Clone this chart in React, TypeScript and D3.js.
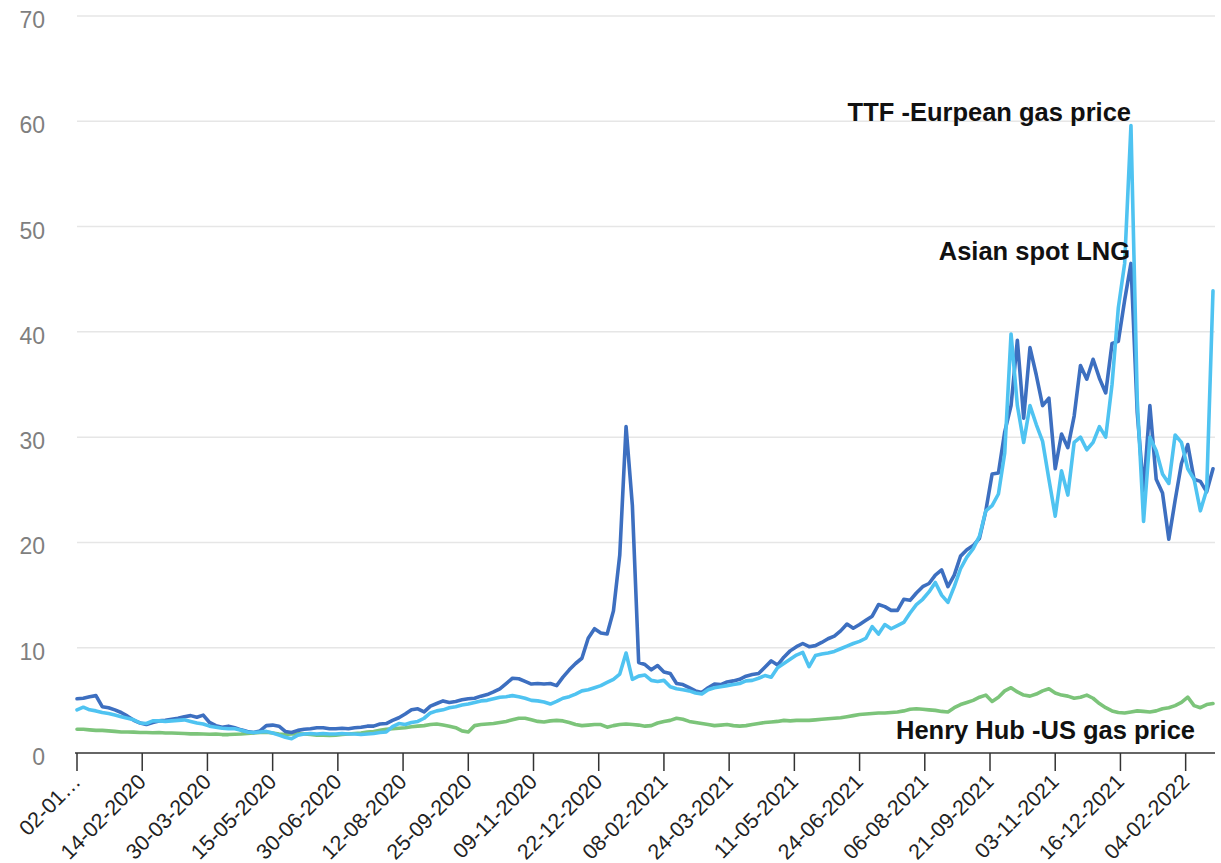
import React from 'react';
import * as d3 from 'd3';

const STEP = 3; // trading days between samples
const LAST_INDEX = 540;

const tickLabels = ["02-01…","14-02-2020","30-03-2020","15-05-2020","30-06-2020","12-08-2020","25-09-2020","09-11-2020","22-12-2020","08-02-2021","24-03-2021","11-05-2021","24-06-2021","06-08-2021","21-09-2021","03-11-2021","16-12-2021","04-02-2022"];
const TICK_EVERY = 31;
const yTicks = [0, 10, 20, 30, 40, 50, 60, 70];

const asianLNG = [
  5.15,5.2,5.35,5.45,4.4,4.3,4.1,3.85,3.5,3.1,
  2.85,2.7,2.9,3.05,3.1,3.2,3.3,3.45,3.55,3.4,
  3.6,2.9,2.6,2.45,2.55,2.4,2.2,2.05,1.95,2.1,
  2.6,2.65,2.55,2.05,1.95,2.15,2.25,2.3,2.4,2.4,
  2.3,2.3,2.35,2.3,2.4,2.45,2.55,2.55,2.75,2.8,
  3.1,3.35,3.7,4.1,4.2,3.9,4.45,4.7,4.95,4.8,
  4.9,5.05,5.15,5.2,5.4,5.55,5.8,6.1,6.6,7.1,
  7.05,6.8,6.55,6.6,6.55,6.6,6.4,7.2,7.9,8.5,
  9.0,10.9,11.8,11.4,11.3,13.5,18.8,31.0,23.5,8.6,
  8.4,7.9,8.3,7.7,7.55,6.6,6.5,6.2,5.9,5.75,
  6.2,6.55,6.5,6.75,6.85,7.0,7.3,7.45,7.55,8.15,
  8.75,8.35,9.1,9.7,10.1,10.4,10.1,10.2,10.5,10.85,
  11.1,11.6,12.25,11.85,12.2,12.6,13.0,14.1,13.9,13.55,
  13.55,14.6,14.5,15.2,15.8,16.1,16.9,17.4,15.8,16.9,
  18.7,19.3,19.7,20.4,23.0,26.5,26.6,30.5,33.0,39.2,
  31.8,38.5,35.9,33.0,33.7,27.0,30.3,29.0,32.0,36.8,
  35.5,37.4,35.6,34.2,38.9,39.1,43.0,46.5,32.3,24.9,
  33.0,26.0,24.7,20.3,24.0,27.5,29.3,26.0,25.8,24.8,
  27.0
];

const ttf = [
  4.1,4.35,4.1,4.0,3.85,3.75,3.6,3.45,3.3,3.15,
  2.85,2.8,3.05,3.05,3.0,3.05,3.1,3.15,3.0,2.85,
  2.75,2.55,2.45,2.35,2.3,2.3,2.15,2.0,1.95,2.0,
  2.05,1.9,1.7,1.5,1.35,1.7,1.8,1.85,1.8,1.85,
  1.8,1.8,1.85,1.8,1.8,1.75,1.8,1.85,1.95,2.0,
  2.5,2.8,2.7,2.9,3.0,3.3,3.8,4.0,4.1,4.3,
  4.4,4.55,4.65,4.8,4.95,5.0,5.15,5.3,5.35,5.45,
  5.35,5.2,5.0,4.95,4.85,4.65,4.9,5.2,5.35,5.6,
  5.9,6.0,6.2,6.4,6.7,7.0,7.5,9.5,7.0,7.3,
  7.4,6.9,6.8,6.9,6.3,6.1,6.0,5.9,5.7,5.6,
  6.0,6.2,6.3,6.4,6.5,6.6,6.85,6.9,7.1,7.35,
  7.2,8.1,8.5,8.9,9.3,9.55,8.2,9.25,9.4,9.5,
  9.65,9.9,10.15,10.4,10.6,10.9,12.0,11.3,12.2,11.8,
  12.1,12.4,13.3,14.1,14.6,15.3,16.2,15.0,14.3,15.8,
  17.5,18.6,19.4,20.6,23.0,23.5,24.6,28.5,39.8,33.0,
  29.5,33.0,31.2,29.6,26.0,22.5,26.8,24.5,29.5,30.0,
  28.8,29.5,31.0,30.0,35.0,42.3,46.5,59.6,33.5,22.0,
  30.0,28.7,26.5,25.6,30.2,29.5,27.0,26.0,23.0,25.0,
  43.9
];

const henryHub = [
  2.25,2.25,2.2,2.15,2.15,2.1,2.05,2.0,2.0,1.98,
  1.95,1.95,1.92,1.95,1.9,1.9,1.88,1.85,1.82,1.82,
  1.8,1.78,1.8,1.75,1.75,1.78,1.8,1.85,1.9,1.95,
  1.98,1.9,1.8,1.75,1.8,1.82,1.8,1.75,1.7,1.68,
  1.66,1.7,1.75,1.8,1.85,1.9,1.98,2.05,2.15,2.25,
  2.3,2.35,2.4,2.5,2.55,2.6,2.7,2.75,2.65,2.55,
  2.4,2.1,2.0,2.6,2.7,2.75,2.8,2.9,3.0,3.15,
  3.3,3.3,3.15,3.0,2.95,3.05,3.1,3.05,2.9,2.7,
  2.6,2.65,2.7,2.7,2.45,2.6,2.7,2.75,2.7,2.65,
  2.55,2.6,2.85,3.0,3.1,3.3,3.2,3.0,2.9,2.8,
  2.7,2.6,2.65,2.7,2.6,2.55,2.6,2.7,2.8,2.9,
  2.95,3.0,3.1,3.05,3.1,3.1,3.1,3.15,3.2,3.25,
  3.3,3.35,3.45,3.55,3.65,3.7,3.75,3.8,3.8,3.85,
  3.9,4.0,4.15,4.2,4.15,4.1,4.05,3.95,3.9,4.3,
  4.6,4.8,5.0,5.3,5.5,4.9,5.3,5.9,6.2,5.8,
  5.5,5.4,5.6,5.9,6.1,5.7,5.5,5.4,5.2,5.3,
  5.5,5.2,4.7,4.3,4.0,3.85,3.8,3.9,4.0,3.95,
  3.9,4.0,4.2,4.3,4.5,4.8,5.3,4.5,4.3,4.6,
  4.7
];

const FONT = '"Liberation Sans", Arial, Helvetica, sans-serif';

export default function App() {
  const W = 1221, H = 863;
  const x = d3.scaleLinear().domain([0, LAST_INDEX]).range([77, 1213]);
  const y = d3.scaleLinear().domain([0, 70]).range([753, 16]);
  const line = d3.line<number>().x((_, i) => x(i * STEP)).y(d => y(d));

  const series = [
    { name: 'Henry Hub', data: henryHub, color: '#7cc47a' },
    { name: 'Asian spot LNG', data: asianLNG, color: '#3d6fc0' },
    { name: 'TTF', data: ttf, color: '#4fc3f1' },
  ];

  return (
    <div style={{ position: 'absolute', left: 0, top: 0 }}>
      <svg width={W} height={H} style={{ display: 'block', background: '#fff' }} fontFamily={FONT}>
        {yTicks.filter(t => t > 0).map(t => (
          <line key={'g' + t} x1={77} x2={1215} y1={y(t)} y2={y(t)} stroke="#e6e6e6" strokeWidth={1.5} />
        ))}
        {yTicks.map(t => (
          <text key={'yl' + t} x={45} y={y(t) + 12} textAnchor="end" fontSize={23} fill="#7f7f7f">{t}</text>
        ))}
        {series.map(s => (
          <path key={s.name} d={line(s.data) || ''} fill="none" stroke={s.color} strokeWidth={3.6} strokeLinejoin="round" strokeLinecap="round" />
        ))}
        <line x1={75} x2={1215} y1={753} y2={753} stroke="#333" strokeWidth={1.5} />
        {tickLabels.map((lab, j) => {
          const tx = x(j * TICK_EVERY);
          return (
            <g key={'xt' + j}>
              <line x1={tx} x2={tx} y1={753} y2={771} stroke="#333" strokeWidth={1.5} />
              <text transform={`translate(${tx + 5},${783}) rotate(-45)`} textAnchor="end" fontSize={21.5} fill="#222">{lab}</text>
            </g>
          );
        })}
        <text x={1131} y={121} textAnchor="end" fontSize={25.5} fontWeight="bold" fill="#111">TTF -Eurpean gas price</text>
        <text x={1130} y={260} textAnchor="end" fontSize={25.5} fontWeight="bold" fill="#111">Asian spot LNG</text>
        <text x={1195} y={739} textAnchor="end" fontSize={25.5} fontWeight="bold" fill="#111">Henry Hub -US gas price</text>
      </svg>
    </div>
  );
}
